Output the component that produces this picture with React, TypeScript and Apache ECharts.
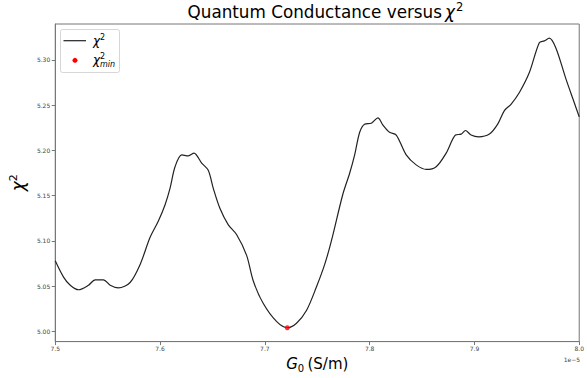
import React, { useEffect, useRef } from "react";
import * as echarts from "echarts";

// G0 values in units of 1e-5 S/m
const g0Values = [
  7.5, 7.5079, 7.5143, 7.5222, 7.5317, 7.5381, 7.546, 7.5524, 7.5603, 7.5714,
  7.581, 7.5905, 7.5984, 7.6048, 7.6095, 7.6143, 7.6207, 7.627, 7.6324, 7.6397,
  7.646, 7.6508, 7.6571, 7.665, 7.673, 7.6826, 7.6889, 7.6984, 7.7111, 7.7214,
  7.7302, 7.7397, 7.7492, 7.7571, 7.7635, 7.7743, 7.781, 7.7857, 7.7905, 7.7952,
  7.8016, 7.8079, 7.8127, 7.819, 7.8254, 7.8349, 7.8444, 7.854, 7.8635, 7.873,
  7.8819, 7.8873, 7.8914, 7.8968, 7.9041, 7.9143, 7.9222, 7.9286, 7.9349, 7.9429,
  7.9524, 7.9619, 7.9667, 7.9714, 7.9778, 7.9873, 7.9952, 8.0,
];
const chi2Values = [
  5.078, 5.06, 5.051, 5.046, 5.051, 5.057, 5.057, 5.051, 5.048, 5.054,
  5.074, 5.104, 5.122, 5.14, 5.158, 5.182, 5.195, 5.194, 5.197, 5.186,
  5.178, 5.158, 5.136, 5.118, 5.107, 5.084, 5.056, 5.031, 5.011, 5.004,
  5.009, 5.023, 5.049, 5.074, 5.1, 5.151, 5.175, 5.195, 5.22, 5.229,
  5.23, 5.236, 5.228, 5.22, 5.217, 5.195, 5.184, 5.179, 5.182, 5.197,
  5.217, 5.218, 5.222, 5.217, 5.215, 5.218, 5.229, 5.244, 5.251, 5.264,
  5.286, 5.319, 5.321, 5.324, 5.313, 5.279, 5.253, 5.237,
];
const chi2Min = [7.7214, 5.004];
const yTicks = [5.0, 5.05, 5.1, 5.15, 5.2, 5.25, 5.3];
const xMin = 7.5;
const xMax = 8.0;
const yMin = 4.9887;
const yMax = 5.3397;

const FONT = "DejaVu Sans";

export default function App() {
  const ref = useRef<HTMLDivElement>(null);
  useEffect(() => {
    if (!ref.current) return;
    const chart = echarts.init(ref.current, null, { renderer: "svg" });
    const lineData = g0Values.map((x, i) => [x, chi2Values[i]]);
    chart.setOption({
      animation: false,
      backgroundColor: "#ffffff",
      grid: {
        left: 55,
        right: 7,
        top: 24,
        bottom: 33,
        show: true,
        borderColor: "#777",
        borderWidth: 1,
        backgroundColor: "transparent",
      },
      xAxis: {
        type: "value",
        min: xMin,
        max: xMax,
        interval: 0.1,
        name: "{g|G}{s|0} {t|(S/m)}",
        nameLocation: "middle",
        nameGap: 12,
        nameTextStyle: {
          rich: {
            g: { fontFamily: FONT, fontSize: 15, fontStyle: "italic", color: "#000" },
            s: { fontFamily: FONT, fontSize: 10, color: "#000", verticalAlign: "bottom", padding: [8, 0, 0, 0] },
            t: { fontFamily: FONT, fontSize: 15, color: "#000" },
          },
        },
        axisLine: { show: true, lineStyle: { color: "#777", width: 1 } },
        axisTick: { show: true, inside: false, length: 3.5, lineStyle: { color: "#777" } },
        axisLabel: {
          fontFamily: FONT,
          fontSize: 6,
          color: "#444",
          margin: 4,
          showMinLabel: true,
          showMaxLabel: true,
          formatter: (v: number) => v.toFixed(1),
        },
        splitLine: { show: false },
      },
      yAxis: {
        type: "value",
        min: yMin,
        max: yMax,
        name: "{c|χ}{s|2}",
        nameLocation: "middle",
        nameGap: 22,
        nameRotate: 90,
        nameTextStyle: {
          rich: {
            c: { fontFamily: FONT, fontSize: 17, fontStyle: "italic", color: "#000" },
            s: { fontFamily: FONT, fontSize: 11, color: "#000", verticalAlign: "top", padding: [0, 0, 8, 0] },
          },
        },
        axisLine: { show: true, lineStyle: { color: "#777", width: 1 } },
        axisTick: { show: true, inside: false, length: 3.5, lineStyle: { color: "#777" }, customValues: yTicks },
        axisLabel: {
          fontFamily: FONT,
          fontSize: 6,
          color: "#444",
          margin: 5,
          customValues: yTicks,
          formatter: (v: number) => v.toFixed(2),
        },
        splitLine: { show: false },
      },
      series: [
        {
          name: "chi2",
          type: "line",
          data: lineData,
          showSymbol: false,
          symbol: "none",
          smooth: 0.3,
          lineStyle: { color: "#222", width: 1.2 },
          z: 2,
        },
        {
          name: "chi2min",
          type: "scatter",
          data: [chi2Min],
          symbol: "circle",
          symbolSize: 5,
          itemStyle: { color: "#ff0000" },
          z: 3,
        },
      ],
      graphic: [
        {
          type: "text",
          x: 442,
          y: 12,
          style: {
            text: "Quantum Conductance versus",
            fontFamily: FONT,
            fontSize: 16.8,
            fill: "#000",
            align: "right",
            verticalAlign: "middle",
          },
        },
        {
          type: "text",
          x: 445,
          y: 12,
          style: {
            text: "χ",
            fontFamily: FONT,
            fontSize: 16.8,
            fontStyle: "italic",
            fill: "#000",
            align: "left",
            verticalAlign: "middle",
          },
        },
        {
          type: "text",
          x: 456,
          y: 7,
          style: {
            text: "2",
            fontFamily: FONT,
            fontSize: 11.5,
            fill: "#000",
            align: "left",
            verticalAlign: "middle",
          },
        },
        {
          type: "rect",
          shape: { x: 60.5, y: 29.5, width: 59, height: 43, r: 2 },
          style: { fill: "rgba(255,255,255,0.8)", stroke: "#d6d6d6", lineWidth: 1 },
          z: 10,
        },
        {
          type: "line",
          shape: { x1: 63.5, y1: 40.7, x2: 86, y2: 40.7 },
          style: { stroke: "#222", lineWidth: 1.2 },
          z: 11,
        },
        {
          type: "circle",
          shape: { cx: 75, cy: 60.3, r: 2.5 },
          style: { fill: "#ff0000" },
          z: 11,
        },
        {
          type: "text",
          x: 93,
          y: 41,
          style: {
            text: "χ",
            fontFamily: FONT,
            fontSize: 12,
            fontStyle: "italic",
            fill: "#000",
            verticalAlign: "middle",
          },
          z: 11,
        },
        {
          type: "text",
          x: 100,
          y: 37,
          style: {
            text: "2",
            fontFamily: FONT,
            fontSize: 8,
            fill: "#000",
            verticalAlign: "middle",
          },
          z: 11,
        },
        {
          type: "text",
          x: 93,
          y: 60,
          style: {
            text: "χ",
            fontFamily: FONT,
            fontSize: 12,
            fontStyle: "italic",
            fill: "#000",
            verticalAlign: "middle",
          },
          z: 11,
        },
        {
          type: "text",
          x: 100,
          y: 56,
          style: {
            text: "2",
            fontFamily: FONT,
            fontSize: 8,
            fill: "#000",
            verticalAlign: "middle",
          },
          z: 11,
        },
        {
          type: "text",
          x: 100,
          y: 64,
          style: {
            text: "min",
            fontFamily: FONT,
            fontSize: 8,
            fontStyle: "italic",
            fill: "#000",
            verticalAlign: "middle",
          },
          z: 11,
        },
        {
          type: "text",
          x: 580,
          y: 359,
          style: {
            text: "1e−5",
            fontFamily: FONT,
            fontSize: 6,
            fill: "#444",
            align: "right",
            verticalAlign: "middle",
          },
        },
      ],
    });
    return () => chart.dispose();
  }, []);
  return <div ref={ref} style={{ width: 587, height: 378, position: "absolute", left: 0, top: 0 }} />;
}
